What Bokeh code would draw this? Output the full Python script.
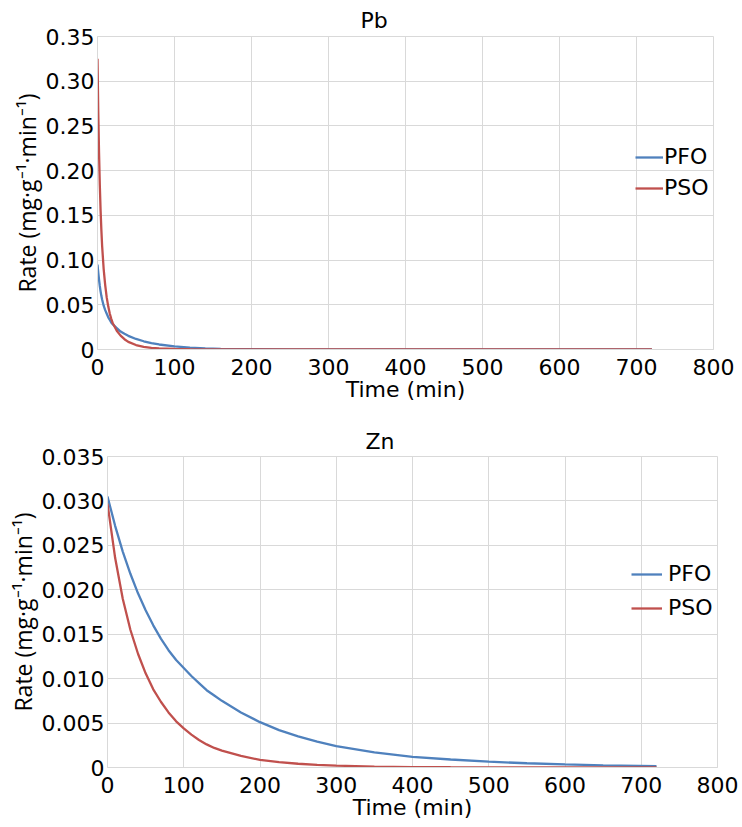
from bokeh.plotting import figure
from bokeh.layouts import column
from bokeh.models import Range1d, FixedTicker, CustomJSTickFormatter, Legend, LegendItem
from bokeh.embed import file_html
from bokeh.resources import INLINE

# ---- data ----
pb_time = [0, 1, 2, 3, 4, 5, 6, 8, 10, 12, 14, 16, 18, 20, 25, 30, 35, 40, 50, 60, 70, 80,
           100, 120, 140, 160, 180, 200, 250, 300, 350, 400, 500, 600, 720]
pb_pfo = [0.095, 0.086, 0.078, 0.071, 0.065, 0.060, 0.056, 0.049, 0.044, 0.040, 0.036, 0.033,
          0.030, 0.028, 0.024, 0.020, 0.0175, 0.0153, 0.0118, 0.0092, 0.0072, 0.0056,
          0.0034, 0.0021, 0.0013, 0.0008, 0.0005, 0.0003, 0.0001, 0.00003, 0, 0, 0, 0, 0]
pb_pso = [0.325, 0.265, 0.220, 0.184, 0.156, 0.134, 0.116, 0.090, 0.072, 0.058, 0.048, 0.040,
          0.034, 0.029, 0.021, 0.0155, 0.0115, 0.0085, 0.0050, 0.0030, 0.0019, 0.0012,
          0.0006, 0.0003, 0.00015, 0.00008, 0.00004, 0.00002, 0, 0, 0, 0, 0, 0, 0]

zn_time = [0, 10, 20, 30, 40, 50, 60, 70, 80, 90, 100, 110, 120, 130, 140, 150, 175, 200,
           225, 250, 275, 300, 350, 400, 450, 500, 550, 600, 650, 720]
zn_pfo = [0.0305, 0.0272, 0.0243, 0.0218, 0.0196, 0.0177, 0.0160, 0.0145, 0.0132, 0.0121,
          0.0112, 0.0103, 0.0095, 0.0087, 0.0081, 0.0075, 0.0062, 0.0051, 0.0042, 0.0035,
          0.0029, 0.0024, 0.0017, 0.0012, 0.0009, 0.00065, 0.00048, 0.00035, 0.00025, 0.00015]
zn_pso = [0.0297, 0.0236, 0.0190, 0.0155, 0.0128, 0.0106, 0.0088, 0.0074, 0.0062, 0.0052,
          0.0044, 0.0037, 0.0031, 0.0026, 0.0022, 0.0019, 0.0013, 0.00085, 0.0006, 0.00042,
          0.0003, 0.00021, 0.0001, 0.00005, 0.00003, 0.00002, 0.00001, 0, 0, 0]

x_ticks = [0, 100, 200, 300, 400, 500, 600, 700, 800]
pb_yticks = [0, 0.05, 0.10, 0.15, 0.20, 0.25, 0.30, 0.35]
zn_yticks = [0, 0.005, 0.010, 0.015, 0.020, 0.025, 0.030, 0.035]

series_names = ["PFO", "PSO"]
colors = ["#4F81BD", "#C0504D"]

FONT = "DejaVu Sans"
YLAB_FONT = "Open Sans"
W = 742


def make(title, t, ys, ymax, yticks, decimals, h, borders, title_offset, title_standoff,
         legend_loc, legend_spacing, legend_standoff, glyph_w):
    left, right, top, bottom = borders
    p = figure(width=W, height=h, output_backend="svg", toolbar_location=None,
               x_range=Range1d(0, 800), y_range=Range1d(0, ymax),
               min_border_left=left, min_border_right=right,
               min_border_top=top, min_border_bottom=bottom,
               background_fill_color="white", border_fill_color="white")
    p.title.text = title
    p.title.align = "left"
    p.title.text_font = FONT
    p.title.text_font_size = "22px"
    p.title.text_font_style = "normal"
    p.title.text_color = "#000000"
    p.title.offset = title_offset
    p.title.standoff = title_standoff

    p.outline_line_color = "#d9d9d9"
    p.xaxis.ticker = FixedTicker(ticks=x_ticks)
    p.yaxis.ticker = FixedTicker(ticks=yticks)
    p.yaxis.formatter = CustomJSTickFormatter(
        code="return Math.abs(tick) < 1e-12 ? '0' : tick.toFixed(%d);" % decimals)
    for ax in (p.xaxis[0], p.yaxis[0]):
        ax.axis_line_color = "#d9d9d9"
        ax.major_tick_line_color = None
        ax.minor_tick_line_color = None
        ax.major_tick_out = 0
        ax.major_tick_in = 0
        ax.minor_tick_out = 0
        ax.minor_tick_in = 0
        ax.major_label_text_font = FONT
        ax.major_label_text_font_size = "22px"
        ax.major_label_text_color = "#000000"
        ax.axis_label_text_font_style = "normal"
        ax.axis_label_text_color = "#000000"
    p.xaxis.axis_label = "Time (min)"
    p.xaxis.axis_label_text_font = FONT
    p.xaxis.axis_label_text_font_size = "22px"
    p.yaxis.axis_label = "Rate (mg·g⁻¹·min⁻¹)"
    p.yaxis.axis_label_text_font = YLAB_FONT
    p.yaxis.axis_label_text_font_size = "23px"
    p.xaxis.major_label_standoff = 9
    p.xaxis.axis_label_standoff = -1
    p.yaxis.major_label_standoff = 3
    p.yaxis.axis_label_standoff = 0

    p.xgrid.ticker = FixedTicker(ticks=x_ticks)
    p.ygrid.ticker = FixedTicker(ticks=yticks)
    p.grid.grid_line_color = "#d9d9d9"
    p.grid.grid_line_width = 1

    items = []
    for name, y, c in zip(series_names, ys, colors):
        r = p.line(t, y, line_color=c, line_width=2.3)
        items.append(LegendItem(label=name, renderers=[r]))
    leg = Legend(items=items, location=legend_loc, background_fill_alpha=0,
                 border_line_alpha=0, padding=0, margin=0, spacing=legend_spacing,
                 label_standoff=legend_standoff, glyph_width=glyph_w, glyph_height=20,
                 label_text_font=FONT, label_text_font_size="22px",
                 label_text_color="#000000", label_height=24)
    p.add_layout(leg, "center")
    return p


p1 = make("Pb", pb_time, [pb_pfo, pb_pso], 0.35, pb_yticks, 2, 410,
          (97, 29, 36, 61), 263, 7, (538, 149), 6, 1, 28)
p2 = make("Zn", zn_time, [zn_pfo, zn_pso], 0.035, zn_yticks, 3, 417,
          (107, 25, 46, 60), 258, 6, (524, 147), 9, 6, 31)

layout = column(column(p1), column(p2), spacing=0)
open("out.html", "w").write(file_html(layout, INLINE))
